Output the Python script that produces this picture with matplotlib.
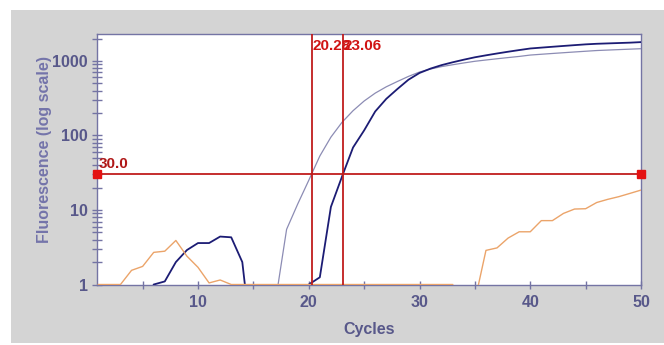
import matplotlib
matplotlib.use("Agg")
import matplotlib.pyplot as plt
from matplotlib.patches import Rectangle
from matplotlib.ticker import LogLocator, NullFormatter

plt.rcParams['font.family'] = ['Liberation Sans', 'DejaVu Sans']
plt.rcParams['font.weight'] = 'bold'

### data
cycles = list(range(1, 51))

# sample with Ct 23.06 (dark trace)
dark_rfu = [0.3, 0.3, 0.3, 0.3, 0.3, 1.0, 1.1, 2.0, 2.9, 3.6,
            3.6, 4.4, 4.3, 2.0, 0.1, 0.1, 0.1, 0.1, 0.1, 1.0,
            1.25, 11, 28, 69, 117, 210, 310, 420, 560, 690,
            790, 880, 960, 1040, 1120, 1190, 1260, 1330, 1400, 1470,
            1510, 1550, 1590, 1630, 1670, 1700, 1720, 1740, 1760, 1790]

# sample with Ct 20.28 (light trace)
light_rfu = [0.3, 0.3, 0.3, 0.3, 0.3, 0.3, 0.3, 0.3, 0.3, 0.3,
             0.3, 0.3, 0.3, 0.3, 0.3, 0.3, 0.6, 5.5, 12, 25,
             53, 95, 150, 215, 290, 370, 450, 530, 620, 710,
             780, 840, 890, 940, 990, 1030, 1070, 1110, 1150, 1200,
             1230, 1260, 1290, 1320, 1350, 1380, 1400, 1420, 1440, 1460]

# no-template / negative trace (orange)
ntc_rfu = [1.0, 1.0, 1.0, 1.55, 1.75, 2.7, 2.8, 3.9, 2.4, 1.7,
           1.05, 1.15, 1.0, 1.0, 1.0, 1.0, 1.0, 1.0, 1.0, 1.0,
           1.0, 1.0, 1.0, 1.0, 1.0, 1.0, 1.0, 1.0, 1.0, 1.0,
           1.0, 1.0, 1.0, 0.3, 0.6, 2.87, 3.1, 4.2, 5.1, 5.1,
           7.2, 7.2, 9.0, 10.3, 10.4, 12.6, 13.9, 15.1, 16.7, 18.5]

threshold = 30.0
ct_values = [20.28, 23.06]
ct_labels = ["20.28", "23.06"]

x_ticks = [5, 10, 15, 20, 25, 30, 35, 40, 45, 50]
x_tick_labels = ["", "10", "", "20", "", "30", "", "40", "", "50"]
y_ticks = [1, 10, 100, 1000]
y_tick_labels = ["1", "10", "100", "1000"]

### colours
axis_col = "#7474a4"
text_col = "#58588a"
red = "#c01c1c"

### figure
fig = plt.figure(figsize=(6.64, 3.45), dpi=100, facecolor="white")
fig.patches.append(Rectangle((11 / 664, 2 / 345), 1 - 11 / 664, 333 / 345,
                             transform=fig.transFigure, facecolor="#d4d4d4",
                             edgecolor="none", zorder=-5))
ax = fig.add_axes([97 / 664, 60 / 345, 544 / 664, 251 / 345])
ax.set_zorder(2)
ax.set_facecolor("white")

ax.plot(cycles, light_rfu, color="#8c8cb4", lw=0.9, zorder=3)
ax.plot(cycles, dark_rfu, color="#1c1c74", lw=1.3, zorder=4)
ax.plot(cycles, ntc_rfu, color="#eba46a", lw=1.0, zorder=5)

xmin, xmax = 0.88, 50
ax.set_yscale("log")
ax.set_xlim(xmin, xmax)
ax.set_ylim(0.985, 2300)

### threshold and Ct lines
ax.plot([xmin, xmax], [threshold, threshold], color=red, lw=1.3,
        marker="s", markersize=6, markerfacecolor="#e41212",
        markeredgecolor="#e41212", clip_on=False, zorder=6)
ax.text(xmin + 0.15, threshold * 1.12, "%.1f" % threshold, color="#b01818",
        fontsize=11, fontweight="bold", ha="left", va="bottom", zorder=7)
for ct, lab in zip(ct_values, ct_labels):
    ax.axvline(ct, color=red, lw=1.3, zorder=6)
    ax.text(ct + 0.05, 1600, lab, color="#d01414", fontsize=11,
            fontweight="bold", ha="left", va="center", zorder=7)

### axes styling
for s in ax.spines.values():
    s.set_color(axis_col)
    s.set_linewidth(1.0)

ax.set_xticks(x_ticks)
ax.set_xticklabels(x_tick_labels)
ax.set_yticks(y_ticks)
ax.set_yticklabels(y_tick_labels)
ax.yaxis.set_minor_locator(LogLocator(base=10, subs=range(2, 10), numticks=20))
ax.yaxis.set_minor_formatter(NullFormatter())
ax.tick_params(axis="x", direction="inout", length=6, width=1, color=axis_col,
               labelsize=11.5, labelcolor=text_col, pad=4)
ax.tick_params(axis="y", which="both", direction="inout", length=7, width=1,
               color=axis_col, labelsize=11.5, labelcolor=text_col, pad=3)
ax.tick_params(axis="x", which="minor", bottom=False)

ax.set_xlabel("Cycles", fontsize=11.5, fontweight="bold", color=text_col,
              labelpad=9)
fig.text(45 / 664, 1 - 150 / 345, "Fluorescence (log scale)", rotation=90,
         fontsize=11.5, fontweight="bold", color="#7474aa",
         ha="center", va="center")

fig.savefig("out.png", dpi=100, facecolor=fig.get_facecolor())
